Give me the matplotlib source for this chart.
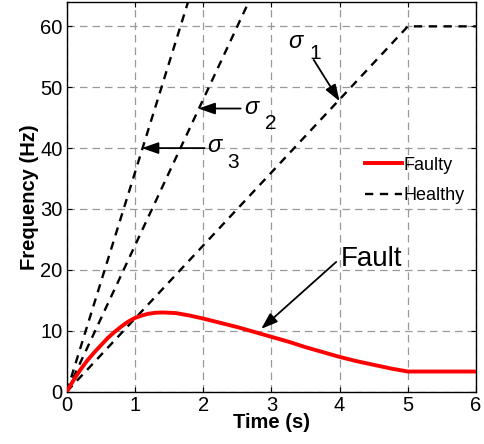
import matplotlib.pyplot as plt
import numpy as np

plt.rcParams['font.family'] = ['Liberation Sans', 'DejaVu Sans']
plt.rcParams['mathtext.fontset'] = 'custom'
plt.rcParams['mathtext.it'] = 'Liberation Sans:italic'
plt.rcParams['mathtext.rm'] = 'Liberation Sans'

# healthy ramps (slope Hz/s); only the slowest one saturates inside the view
rates = [12, 24, 36]
f_max = 60
t_end = 6

# faulty response
t_fault = [0, 0.1, 0.2, 0.3, 0.4, 0.5, 0.6, 0.7, 0.8, 0.9, 1.0, 1.1, 1.2, 1.3, 1.4, 1.6, 1.8,
           2.0, 2.25, 2.5, 2.75, 3.0, 3.25, 3.5, 3.75, 4.0, 4.25, 4.5, 4.75, 5.0, 6.0]
f_fault = [0, 1.9, 3.6, 5.1, 6.4, 7.6, 8.8, 9.8, 10.7, 11.5, 12.1, 12.5, 12.8, 12.95, 13.0,
           12.9, 12.5, 12.0, 11.3, 10.6, 9.8, 9.0, 8.2, 7.3, 6.5, 5.7, 5.0, 4.4, 3.8, 3.3, 3.3]

fig = plt.figure(figsize=(4.84, 4.44), dpi=100)
ax = fig.add_axes([0.138, 0.118, 0.8455, 0.8775])

ax.plot(t_fault, f_fault, color='red', lw=2.8, label='Faulty', zorder=4)

for k, r in enumerate(rates):
    t_hit = f_max / r
    tt = [0, t_hit, t_end]
    ff = [0, f_max, f_max]
    if k > 0:
        # steeper ramps leave the plot before the limit
        tt = [0, t_end]
        ff = [0, r * t_end]
    ax.plot(tt, ff, 'k--', lw=1.7, dashes=(3.5, 2.8),
            label='Healthy' if k == 0 else None, zorder=3)

ax.set_xlim(0, 6)
ax.set_ylim(0, 64)
ax.set_xticks(range(0, 7))
ax.set_yticks(range(0, 61, 10))
ax.grid(True, color='#999999', ls=(0, (6, 4)), lw=0.9)
ax.tick_params(direction='in', top=True, right=True, labelsize=14.5, pad=3)
for s in ax.spines.values():
    s.set_linewidth(1.0)

ax.set_xlabel('Time (s)', fontsize=14.5, fontweight='bold', labelpad=-1)
ax.set_ylabel('Frequency (Hz)', fontsize=14.5, fontweight='bold', labelpad=1)

arr = dict(arrowstyle='-|>,head_length=1.0,head_width=0.35', color='black', lw=1.3,
           shrinkA=0, shrinkB=0)
ax.annotate('', xy=(4.0, 47.7), xytext=(3.62, 54.5), arrowprops=arr)
ax.text(3.25, 56.5, r'$\sigma$', fontsize=17)
ax.text(3.55, 54.6, '1', fontsize=15)
ax.annotate('', xy=(1.93, 46.5), xytext=(2.55, 46.5), arrowprops=arr)
ax.text(2.6, 45.6, r'$\sigma$', fontsize=17)
ax.text(2.9, 43.2, '2', fontsize=15)
ax.annotate('', xy=(1.1, 40), xytext=(2.02, 40), arrowprops=arr)
ax.text(2.05, 39.3, r'$\sigma$', fontsize=17)
ax.text(2.35, 36.7, '3', fontsize=15)

ax.annotate('', xy=(2.85, 10.3), xytext=(3.95, 21.3), arrowprops=arr)
ax.text(4.02, 20.6, 'Fault', fontsize=20)

ax.legend(loc='upper left', bbox_to_anchor=(0.69, 0.645), frameon=False,
          fontsize=13, handlelength=2.0, handletextpad=0.1, labelspacing=0.75)

fig.savefig('out.png', dpi=100)
